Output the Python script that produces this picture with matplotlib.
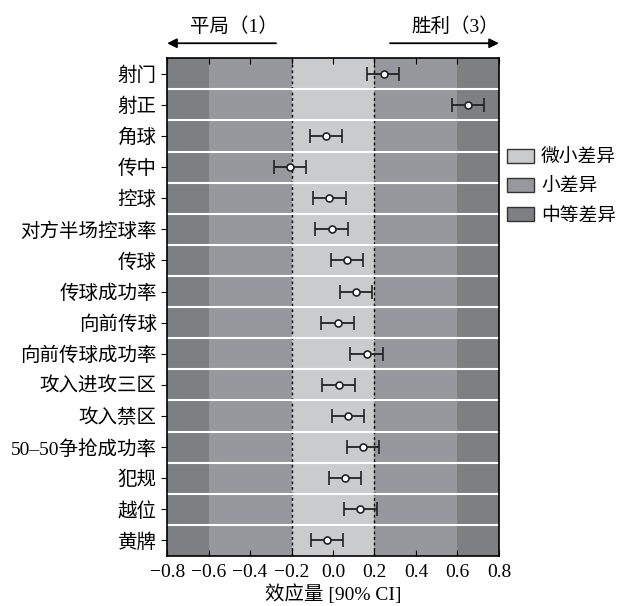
"""Effect sizes of match indicators: draw (1) vs win (3)."""
import matplotlib
matplotlib.use('Agg')
from matplotlib import pyplot as plt
from matplotlib.patches import Patch

plt.rcParams['font.family'] = ['Liberation Serif', 'Noto Sans CJK SC']
plt.rcParams['axes.unicode_minus'] = True

indicators = ['射门', '射正', '角球', '传中', '控球', '对方半场控球率', '传球',
              '传球成功率', '向前传球', '向前传球成功率', '攻入进攻三区',
              '攻入禁区', '50–50争抢成功率', '犯规', '越位', '黄牌']
effect = [0.245, 0.65, -0.034, -0.209, -0.02, -0.007, 0.067, 0.11,
          0.022, 0.162, 0.027, 0.072, 0.144, 0.059, 0.129, -0.031]
ci_low = [0.166, 0.573, -0.111, -0.286, -0.097, -0.087, -0.012, 0.032,
          -0.056, 0.083, -0.052, -0.005, 0.065, -0.018, 0.052, -0.108]
ci_high = [0.32, 0.727, 0.045, -0.13, 0.061, 0.072, 0.146, 0.187,
           0.099, 0.24, 0.106, 0.15, 0.222, 0.137, 0.21, 0.046]
xticks = [-0.8, -0.6, -0.4, -0.2, 0.0, 0.2, 0.4, 0.6, 0.8]

c_trivial = '#cacbcd'
c_small = '#97989e'
c_moderate = '#7e7f83'

fig = plt.figure(figsize=(6.19, 6.06), dpi=100)
ax = fig.add_axes([0.270, 0.0825, 0.536, 0.8215])

# shaded magnitude bands
ax.axvspan(-0.8, -0.6, color=c_moderate, lw=0)
ax.axvspan(-0.6, -0.2, color=c_small, lw=0)
ax.axvspan(-0.2, 0.2, color=c_trivial, lw=0)
ax.axvspan(0.2, 0.6, color=c_small, lw=0)
ax.axvspan(0.6, 0.8, color=c_moderate, lw=0)
ax.axvline(-0.2, color='black', ls=(0, (2, 2)), lw=1)
ax.axvline(0.2, color='black', ls=(0, (2, 2)), lw=1)

n = len(indicators)
ypos = list(range(n))
for i in range(n - 1):
    ax.axhline(i + 0.5, color='white', lw=1.5)

xerr = [[e - lo for e, lo in zip(effect, ci_low)],
        [hi - e for e, hi in zip(effect, ci_high)]]
ax.errorbar(effect, ypos, xerr=xerr, fmt='o', color='#222222', ecolor='#222222',
            elinewidth=1.3, capsize=5, capthick=1.3,
            mfc='white', mec='#222222', ms=5, mew=1.2, zorder=5)

ax.set_xlim(-0.8, 0.8)
ax.set_ylim(n - 0.5, -0.5)
ax.set_xticks(xticks)
ax.set_xticklabels([f'{t:.1f}'.replace('-', '−') for t in xticks], fontsize=14)
ax.set_yticks(ypos)
ax.set_yticklabels(indicators, fontsize=14)
ax.tick_params(axis='x', direction='in', top=True, length=4, pad=6)
ax.tick_params(axis='y', direction='out', length=4)
for s in ax.spines.values():
    s.set_linewidth(1.2)
ax.set_xlabel('效应量 [90% CI]', fontsize=14, labelpad=2)

# outcome arrows above the plot
tr = ax.get_xaxis_transform()
arrow = dict(arrowstyle='-|>', color='black', lw=1.3, mutation_scale=14,
             shrinkA=0, shrinkB=0)
ax.annotate('', xy=(-0.8, 1.03), xycoords=tr, xytext=(-0.275, 1.03),
            textcoords=tr, arrowprops=arrow, annotation_clip=False)
ax.annotate('', xy=(0.8, 1.03), xycoords=tr, xytext=(0.275, 1.03),
            textcoords=tr, arrowprops=arrow, annotation_clip=False)
ax.text(-0.48, 1.064, '平局（1）', transform=tr, ha='center', va='center',
        fontsize=14)
ax.text(0.59, 1.064, '胜利（3）', transform=tr, ha='center', va='center',
        fontsize=14)

handles = [Patch(facecolor=c_trivial, edgecolor='#333333', label='微小差异'),
           Patch(facecolor=c_small, edgecolor='#333333', label='小差异'),
           Patch(facecolor=c_moderate, edgecolor='#333333', label='中等差异')]
fig.legend(handles=handles, loc='upper left', bbox_to_anchor=(0.819, 0.754),
           frameon=False, fontsize=13.5, handlelength=1.44, handleheight=0.75,
           labelspacing=0.62, handletextpad=0.37, borderaxespad=0, borderpad=0)

fig.savefig('out.png', dpi=100)
